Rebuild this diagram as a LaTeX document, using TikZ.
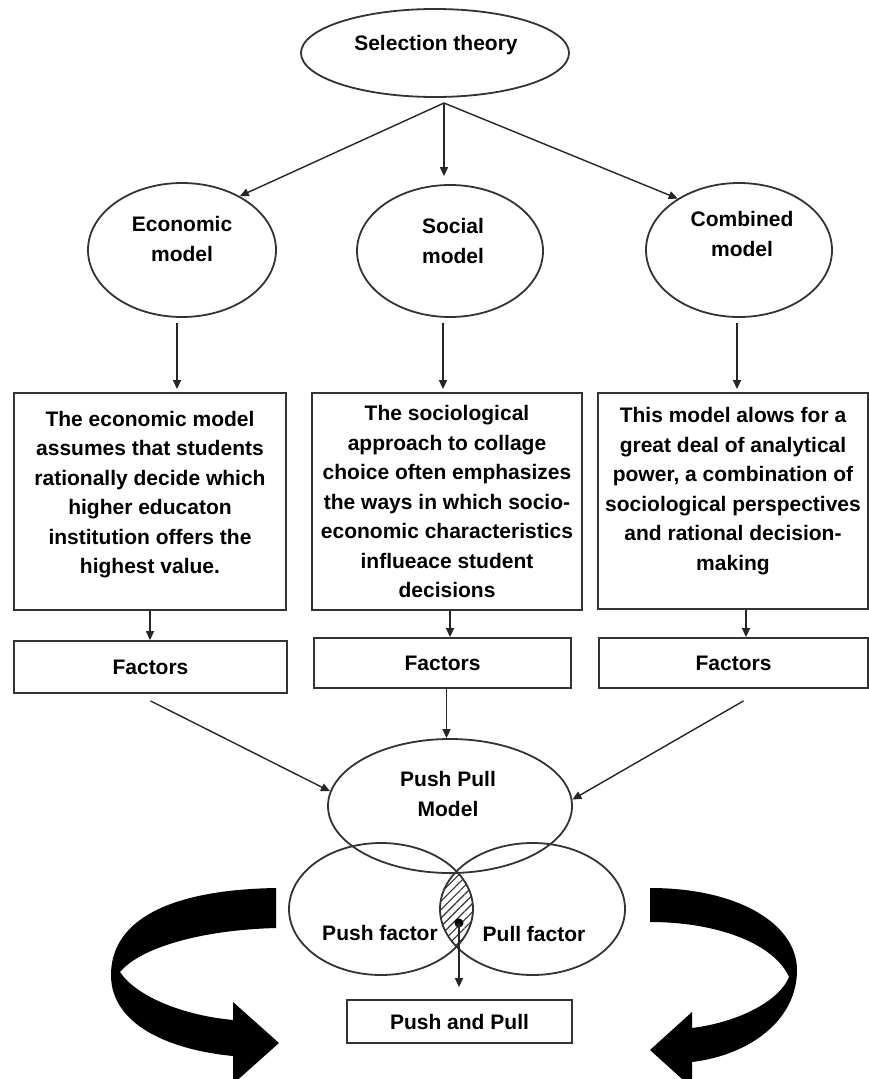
\documentclass[tikz,border=0pt]{standalone}
\usepackage{fontspec}
\setmainfont{Liberation Sans}
\usetikzlibrary{arrows.meta,shapes.geometric,patterns.meta}
\begin{document}
\begin{tikzpicture}[x=1pt,y=-1pt,
  ell/.style={ellipse, draw=black!80, line width=1.8pt, inner sep=0pt},
  box/.style={rectangle, draw=black!80, line width=1.8pt, inner sep=0pt},
  txt/.style={font=\fontsize{21}{29.5}\selectfont\bfseries, align=center, inner sep=0pt},
  arr/.style={draw=black!85, line width=1.4pt, -{Triangle[length=9pt,width=8pt]}},
  bigarrow/.style={fill=black, draw=none}
]
\useasboundingbox (0,0) rectangle (869,1079);
\fill[white] (0,0) rectangle (869,1079);

% top
\node[ell, minimum width=268pt, minimum height=88pt] (sel) at (435,53) {};
\node[txt] (selT) at (436,45) {Selection theory};
\coordinate (split) at (444,103);

% models
\node[ell, minimum width=188pt, minimum height=134pt] (econ) at (182,250) {};
\node[txt] (econT) at (182,239) {Economic\\model};
\node[ell, minimum width=186pt, minimum height=132pt] (soc) at (450,251) {};
\node[txt] (socT) at (453,241) {Social\\model};
\node[ell, minimum width=186pt, minimum height=134pt] (comb) at (739,250) {};
\node[txt] (combT) at (742,234) {Combined\\model};

\draw[arr] (split) -- (econ.43);
\draw[arr] (split) -- ([yshift=8pt]split |- soc.north);
\draw[arr] (split) -- (comb.140);

% description boxes
\node[box, minimum width=272pt, minimum height=217pt] (box1) at (150,501.5) {};
\node[txt] (box1T) at ([yshift=7pt]box1.center) {The economic model\\assumes that students\\rationally decide which\\higher educaton\\institution offers the\\highest value.};
\node[box, minimum width=270pt, minimum height=217pt] (box2) at (447,501.5) {};
\node[txt] (box2T) at ([yshift=0pt]box2.center) {The sociological\\approach to collage\\choice often emphasizes\\the ways in which socio-\\economic characteristics\\influeace student\\decisions};
\node[box, minimum width=270pt, minimum height=216pt] (box3) at (733,501) {};
\node[txt] (box3T) at ([yshift=10pt]box3.center) {This model alows for a\\great deal of analytical\\power, a combination of\\sociological perspectives\\and rational decision-\\making};

\draw[arr] ([xshift=-5pt,yshift=-5pt]econ.south) -- ([xshift=-5pt,yshift=3pt]econ.south |- box1.north);
\draw[arr] ([xshift=-7pt,yshift=-5pt]soc.south) -- ([xshift=-7pt,yshift=3pt]soc.south |- box2.north);
\draw[arr] ([xshift=-2pt,yshift=-5pt]comb.south) -- ([xshift=-2pt,yshift=3pt]comb.south |- box3.north);

% factors
\node[box, txt, minimum width=273pt, minimum height=52pt] (f1) at (150.5,667) {Factors};
\node[box, txt, minimum width=257pt, minimum height=50pt] (f2) at (442.5,663) {Factors};
\node[box, txt, minimum width=269pt, minimum height=50pt] (f3) at (733.5,663) {Factors};

\draw[arr] (box1.south) -- (box1.south |- f1.north);
\draw[arr] ([xshift=3pt]box2.south) -- ([xshift=3pt]box2.south |- f2.north);
\draw[arr] ([xshift=13pt]box3.south) -- ([xshift=13pt]box3.south |- f3.north);

% push pull model
\node[ell, minimum width=244pt, minimum height=134pt] (pp) at (450,806) {};
\node[txt] (ppT) at (448,794) {Push Pull\\Model};

\draw[arr] ([yshift=-7pt]f1.south) -- (pp.173);
\draw[arr] ([xshift=4pt]f2.south) -- ([xshift=4pt]f2.south |- pp.north);
\draw[arr] ([xshift=10pt,yshift=-12pt]f3.south) -- (pp.3);

% push / pull circles
\begin{scope}
  \clip (381,909) ellipse [x radius=92pt, y radius=66pt];
  \fill[pattern={Lines[angle=45,distance=6pt,line width=1.1pt]}, pattern color=black!80]
    (532.5,909) ellipse [x radius=92.5pt, y radius=66pt];
\end{scope}
\node[ell, minimum width=184pt, minimum height=132pt] (push) at (381,909) {};
\node[ell, minimum width=185pt, minimum height=132pt] (pull) at (532.5,909) {};
\node[txt] (pushT) at (380,933) {Push factor};
\node[txt] (pullT) at (534,934) {Pull factor};

\node[circle, fill=black, inner sep=0pt, minimum size=9pt] (dot) at (459,923) {};
\node[box, txt, minimum width=225pt, minimum height=43pt] (pnp) at (459.5,1021.5) {Push and Pull};
\draw[arr] (dot.center) -- ([yshift=12pt]dot.center |- pnp.north);

% big curved arrows
\begin{scope}
  \clip (0,0) rectangle (869,1079);
  \fill[bigarrow] (276,888) .. controls (160,890) and (111,925) .. (111,975)
    .. controls (111,1025) and (170,1050) .. (233,1056)
    -- (233,1084) -- (279,1043) -- (233,1002) -- (233,1020)
    .. controls (180,1015) and (135,995) .. (120,972)
    .. controls (140,948) and (200,930) .. (276,928) -- cycle;
  \fill[bigarrow] (650,888) .. controls (740,888) and (797,925) .. (797,970)
    .. controls (797,1020) and (750,1055) .. (692,1062)
    -- (692,1088) -- (650,1050) -- (692,1012) -- (692,1028)
    .. controls (740,1022) and (780,1000) .. (789,977)
    .. controls (775,945) and (720,922) .. (650,922) -- cycle;
\end{scope}
\end{tikzpicture}
\end{document}
